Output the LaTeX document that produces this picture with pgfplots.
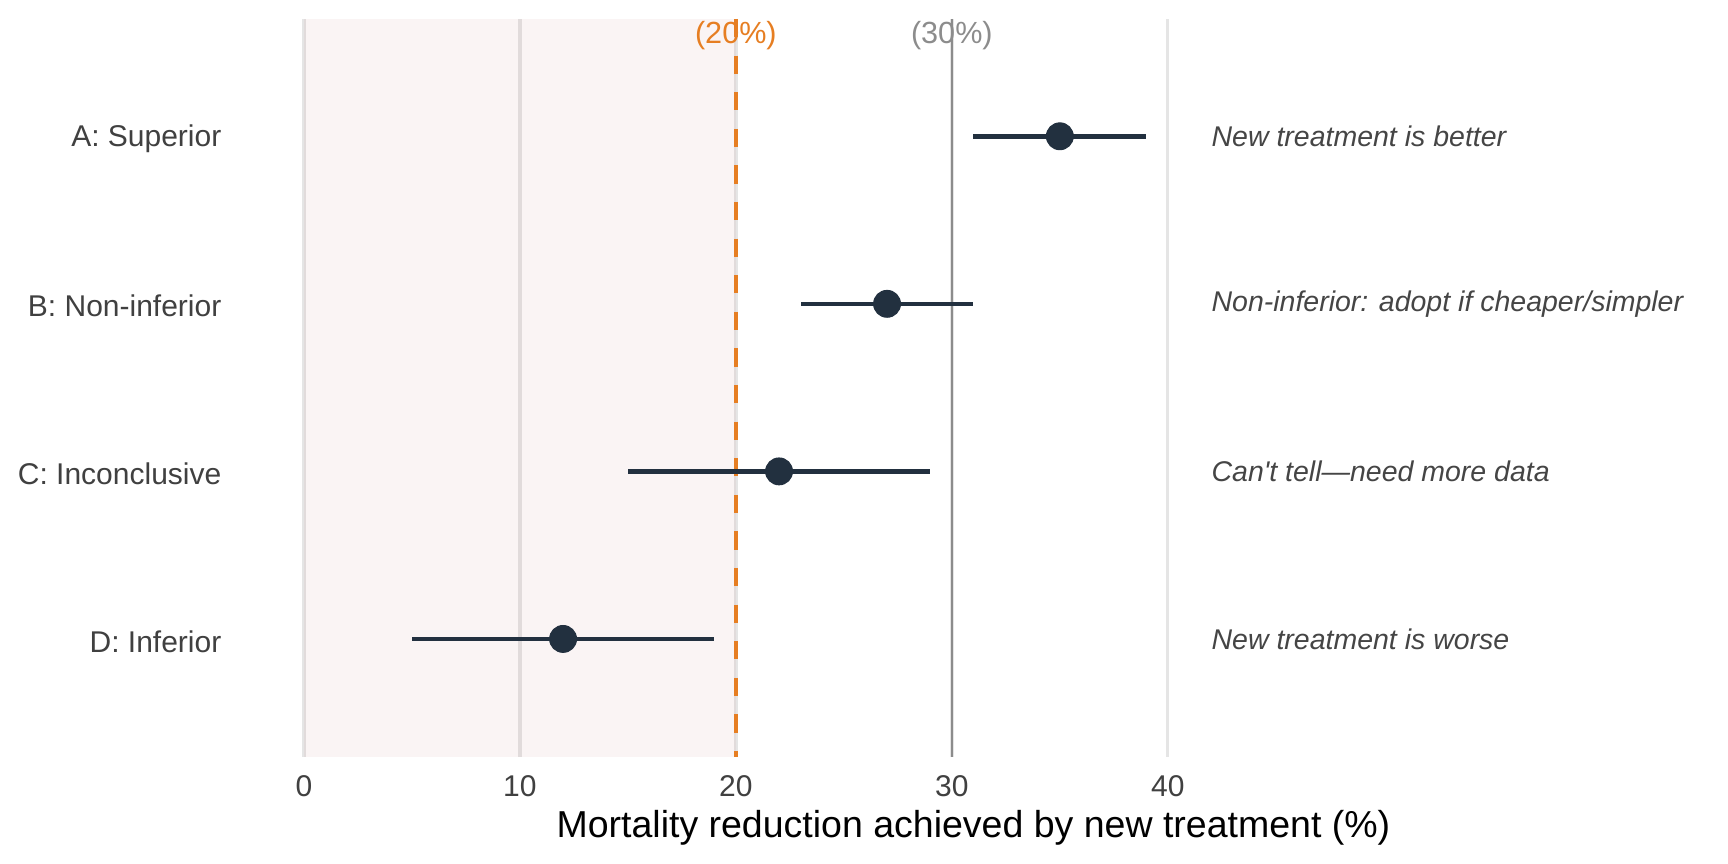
\documentclass[border=0pt]{standalone}
\usepackage{fontspec}
\setmainfont{Liberation Sans}
\usepackage{pgfplots}
\pgfplotsset{compat=1.18}

\definecolor{navy}{HTML}{22303F}
\definecolor{carrot}{HTML}{E67E22}
\definecolor{refgray}{HTML}{8C8C8C}
\definecolor{gridgray}{HTML}{E5E5E5}
\definecolor{shade}{HTML}{8B0000}
\definecolor{axtext}{HTML}{404040}
\definecolor{antext}{HTML}{454545}

\begin{document}
\begin{tikzpicture}
\path[use as bounding box] (0,0) rectangle (576bp,288bp);
\begin{axis}[
    at={(78.98bp,35.7bp)}, anchor=south west,
    scale only axis, width=491bp, height=245.97bp,
    xmin=-3.1, xmax=65.1, ymin=0.296, ymax=4.70,
    enlargelimits=false, clip=false,
    axis line style={draw=none},
    major tick length=0pt,
    xtick={0,10,20,30,40},
    ytick={1,2,3,4},
    yticklabels={D: Inferior, C: Inconclusive, B: Non-inferior, A: Superior},
    xmajorgrids, ymajorgrids=false,
    major grid style={gridgray, line width=1.1bp},
    /pgf/number format/assume math mode=true,
    tick label style={font=\fontsize{10bp}{12bp}\selectfont, text=axtext},
    xticklabel style={anchor=north, inner sep=0pt, yshift=-6bp},
    yticklabel style={anchor=east, inner sep=0pt, xshift=-5bp, yshift=-0.8bp},
    xlabel={Mortality reduction achieved by new treatment (\%)},
    xlabel style={font=\fontsize{12.5bp}{15bp}\selectfont, text=black,
        at={(axis description cs:0.5,0)}, anchor=base, inner sep=0pt, yshift=-27bp},
]
% harm zone
\addplot[draw=none, fill=shade, fill opacity=0.045] coordinates {(0,0.296) (0,4.70) (20,4.70) (20,0.296)} -- cycle;

% reference lines and their labels
\addplot[draw=none, mark=none, nodes near coords, point meta=explicit symbolic,
    every node near coord/.append style={anchor=center, inner sep=0pt,
        font=\fontsize{10.2bp}{12bp}\selectfont}]
    coordinates {(20,4.6) [\textcolor{carrot}{(20\%)}] (30,4.6) [\textcolor{refgray}{(30\%)}]};
\addplot[refgray, line width=0.67bp] coordinates {(30,4.70) (30,0.296)};
\addplot[carrot, line width=1.33bp, dash pattern=on 6.1bp off 6.1bp] coordinates {(20,4.70) (20,0.296)};

% estimates with confidence intervals
\addplot[navy, only marks, mark=*, mark size=4.45bp,
    mark options={fill=navy, draw=navy},
    error bars/.cd, x dir=both, x explicit, error mark=none,
    error bar style={line width=1.55bp, navy}]
    coordinates {
        (35,4) +- (4,0)
        (27,3) +- (4,0)
        (22,2) +- (7,0)
        (12,1) +- (7,0)
    };

% interpretation
\addplot[draw=none, mark=none, nodes near coords, point meta=explicit symbolic,
    every node near coord/.append style={anchor=west, inner sep=0pt,
        font=\fontsize{9.5bp}{11bp}\selectfont\itshape, text=antext}]
    coordinates {
        (42,4) [New treatment is better]
        (42,3) [Non-inferior: adopt if cheaper/simpler]
        (42,2) [Can\textquotesingle t tell—need more data]
        (42,1) [New treatment is worse]
    };
\end{axis}
\end{tikzpicture}
\end{document}
